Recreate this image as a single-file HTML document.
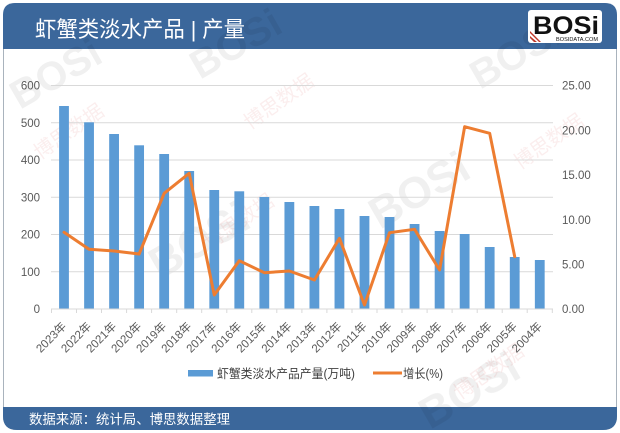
<!DOCTYPE html>
<html>
<head>
<meta charset="utf-8">
<style>
  html,body{margin:0;padding:0;background:#fff;}
  svg{display:block;}
  text{font-family:"Liberation Sans","Noto Sans CJK SC",sans-serif;}
</style>
</head>
<body>
<svg width="620" height="433" viewBox="0 0 620 433" xmlns="http://www.w3.org/2000/svg">
  <rect x="0" y="0" width="620" height="433" fill="#ffffff"/>
  <!-- outer frame -->
  <rect x="3.5" y="3.5" width="613" height="426" rx="12" fill="#ffffff" stroke="#a9b3bd" stroke-width="1"/>
  <!-- header -->
  <path d="M3 49 L3 15 Q3 3 15 3 L605 3 Q617 3 617 15 L617 49 Z" fill="#3b679b"/>
  <!-- footer -->
  <path d="M3 407 L617 407 L617 416 Q617 430 603 430 L17 430 Q3 430 3 416 Z" fill="#3b679b"/>

  <!-- watermarks -->
  <g opacity="0.06" font-weight="bold" fill="#000">
    <text x="200" y="80" font-size="40" transform="rotate(-30 200 80)">BOSi</text>
    <text x="20" y="110" font-size="40" transform="rotate(-30 20 110)">BOSi</text>
    <text x="480" y="90" font-size="40" transform="rotate(-30 480 90)">BOSi</text>
    <text x="160" y="280" font-size="44" transform="rotate(-30 160 280)">BOSi</text>
    <text x="380" y="230" font-size="44" transform="rotate(-30 380 230)">BOSi</text>
    <text x="430" y="430" font-size="44" transform="rotate(-30 430 430)">BOSi</text>
  </g>
  <g opacity="0.09" fill="#d04040" font-size="20">
    <text x="40" y="160" transform="rotate(-35 40 160)">博思数据</text>
    <text x="250" y="130" transform="rotate(-35 250 130)">博思数据</text>
    <text x="210" y="250" transform="rotate(-35 210 250)">博思数据</text>
    <text x="520" y="170" transform="rotate(-35 520 170)">博思数据</text>
    <text x="460" y="400" transform="rotate(-35 460 400)">博思数据</text>
  </g>

  <!-- title -->
  <text x="35" y="37" font-size="22" fill="#ffffff" textLength="210" lengthAdjust="spacingAndGlyphs">虾蟹类淡水产品 | 产量</text>

  <!-- logo -->
  <rect x="528" y="10" width="74" height="33" rx="3" fill="#ffffff"/>
  <text x="533" y="34" font-size="25" font-weight="bold" fill="#111" textLength="66" lengthAdjust="spacingAndGlyphs">BOSi</text>
  <text x="556" y="41" font-size="5.5" fill="#111" textLength="42" lengthAdjust="spacingAndGlyphs">BOSIDATA.COM</text>
  <path d="M530 36 L537 42 L534 42 L530 38 Z M530 31 L541 42 L539 42 L530 33 Z" fill="#c0392b"/>

  <!-- gridlines -->
  <g stroke="#d9d9d9" stroke-width="1">
    <line x1="51" y1="85.5" x2="553" y2="85.5"/>
    <line x1="51" y1="122.75" x2="553" y2="122.75"/>
    <line x1="51" y1="160" x2="553" y2="160"/>
    <line x1="51" y1="197.25" x2="553" y2="197.25"/>
    <line x1="51" y1="234.5" x2="553" y2="234.5"/>
    <line x1="51" y1="271.75" x2="553" y2="271.75"/>
  </g>

  <!-- bars -->
  <g fill="#5b9bd5">
    <rect x="59.1" y="106" width="9.8" height="203"/>
    <rect x="84.14" y="122.3" width="9.8" height="186.7"/>
    <rect x="109.18" y="134" width="9.8" height="175"/>
    <rect x="134.22" y="145.3" width="9.8" height="163.7"/>
    <rect x="159.26" y="154" width="9.8" height="155"/>
    <rect x="184.3" y="171" width="9.8" height="138"/>
    <rect x="209.34" y="190" width="9.8" height="119"/>
    <rect x="234.38" y="191.3" width="9.8" height="117.7"/>
    <rect x="259.42" y="197" width="9.8" height="112"/>
    <rect x="284.46" y="202" width="9.8" height="107"/>
    <rect x="309.5" y="206" width="9.8" height="103"/>
    <rect x="334.54" y="209" width="9.8" height="100"/>
    <rect x="359.58" y="216" width="9.8" height="93"/>
    <rect x="384.62" y="217" width="9.8" height="92"/>
    <rect x="409.66" y="224" width="9.8" height="85"/>
    <rect x="434.7" y="231" width="9.8" height="78"/>
    <rect x="459.74" y="234" width="9.8" height="75"/>
    <rect x="484.78" y="247" width="9.8" height="62"/>
    <rect x="509.82" y="257" width="9.8" height="52"/>
    <rect x="534.86" y="260" width="9.8" height="49"/>
  </g>

  <!-- x axis -->
  <line x1="51" y1="309" x2="553" y2="309" stroke="#d9d9d9" stroke-width="1"/>
  <g stroke="#d9d9d9" stroke-width="1">
    <line x1="51.5" y1="309" x2="51.5" y2="313"/>
    <line x1="76.5" y1="309" x2="76.5" y2="313"/>
    <line x1="101.5" y1="309" x2="101.5" y2="313"/>
    <line x1="126.6" y1="309" x2="126.6" y2="313"/>
    <line x1="151.6" y1="309" x2="151.6" y2="313"/>
    <line x1="176.7" y1="309" x2="176.7" y2="313"/>
    <line x1="201.7" y1="309" x2="201.7" y2="313"/>
    <line x1="226.8" y1="309" x2="226.8" y2="313"/>
    <line x1="251.8" y1="309" x2="251.8" y2="313"/>
    <line x1="276.8" y1="309" x2="276.8" y2="313"/>
    <line x1="301.9" y1="309" x2="301.9" y2="313"/>
    <line x1="326.9" y1="309" x2="326.9" y2="313"/>
    <line x1="352" y1="309" x2="352" y2="313"/>
    <line x1="377" y1="309" x2="377" y2="313"/>
    <line x1="402" y1="309" x2="402" y2="313"/>
    <line x1="427.1" y1="309" x2="427.1" y2="313"/>
    <line x1="452.1" y1="309" x2="452.1" y2="313"/>
    <line x1="477.2" y1="309" x2="477.2" y2="313"/>
    <line x1="502.2" y1="309" x2="502.2" y2="313"/>
    <line x1="527.2" y1="309" x2="527.2" y2="313"/>
    <line x1="552.3" y1="309" x2="552.3" y2="313"/>
  </g>

  <!-- line series -->
  <polyline fill="none" stroke="#ed7d31" stroke-width="3" stroke-linejoin="round" stroke-linecap="round"
    points="64,232.3 89.04,249.3 114.08,251 139.12,254 164.16,193.3 189.2,173.3 214.24,295 239.28,260.7 264.32,272.7 289.36,271 314.4,280 339.44,238.3 364.48,305 389.52,232.7 414.56,229.3 439.6,270 464.64,126.7 489.68,133.3 514.72,256.7"/>

  <!-- left axis labels -->
  <g font-size="11.5" fill="#595959" text-anchor="end">
    <text x="40" y="89.5">600</text>
    <text x="40" y="126.75">500</text>
    <text x="40" y="164">400</text>
    <text x="40" y="201.25">300</text>
    <text x="40" y="238.5">200</text>
    <text x="40" y="275.75">100</text>
    <text x="40" y="313">0</text>
  </g>
  <!-- right axis labels -->
  <g font-size="11.5" fill="#595959">
    <text x="562" y="89.5">25.00</text>
    <text x="562" y="134.3">20.00</text>
    <text x="562" y="179.1">15.00</text>
    <text x="562" y="223.9">10.00</text>
    <text x="562" y="268.7">5.00</text>
    <text x="562" y="313">0.00</text>
  </g>

  <!-- x labels -->
  <g font-size="11.5" fill="#595959" text-anchor="end">
    <text transform="translate(67,327) rotate(-45)">2023年</text>
    <text transform="translate(92.04,327) rotate(-45)">2022年</text>
    <text transform="translate(117.08,327) rotate(-45)">2021年</text>
    <text transform="translate(142.12,327) rotate(-45)">2020年</text>
    <text transform="translate(167.16,327) rotate(-45)">2019年</text>
    <text transform="translate(192.2,327) rotate(-45)">2018年</text>
    <text transform="translate(217.24,327) rotate(-45)">2017年</text>
    <text transform="translate(242.28,327) rotate(-45)">2016年</text>
    <text transform="translate(267.32,327) rotate(-45)">2015年</text>
    <text transform="translate(292.36,327) rotate(-45)">2014年</text>
    <text transform="translate(317.4,327) rotate(-45)">2013年</text>
    <text transform="translate(342.44,327) rotate(-45)">2012年</text>
    <text transform="translate(367.48,327) rotate(-45)">2011年</text>
    <text transform="translate(392.52,327) rotate(-45)">2010年</text>
    <text transform="translate(417.56,327) rotate(-45)">2009年</text>
    <text transform="translate(442.6,327) rotate(-45)">2008年</text>
    <text transform="translate(467.64,327) rotate(-45)">2007年</text>
    <text transform="translate(492.68,327) rotate(-45)">2006年</text>
    <text transform="translate(517.72,327) rotate(-45)">2005年</text>
    <text transform="translate(542.76,327) rotate(-45)">2004年</text>
  </g>

  <!-- legend -->
  <rect x="188" y="370" width="25" height="6.5" fill="#5b9bd5"/>
  <text x="217" y="378" font-size="12.5" fill="#404040" textLength="138" lengthAdjust="spacingAndGlyphs">虾蟹类淡水产品产量(万吨)</text>
  <line x1="373" y1="373" x2="402" y2="373" stroke="#ed7d31" stroke-width="3"/>
  <text x="403" y="378" font-size="12.5" fill="#404040" textLength="40" lengthAdjust="spacingAndGlyphs">增长(%)</text>

  <!-- footer text -->
  <text x="29" y="424" font-size="13.4" fill="#ffffff" textLength="201" lengthAdjust="spacingAndGlyphs">数据来源：统计局、博思数据整理</text>
</svg>
</body>
</html>
